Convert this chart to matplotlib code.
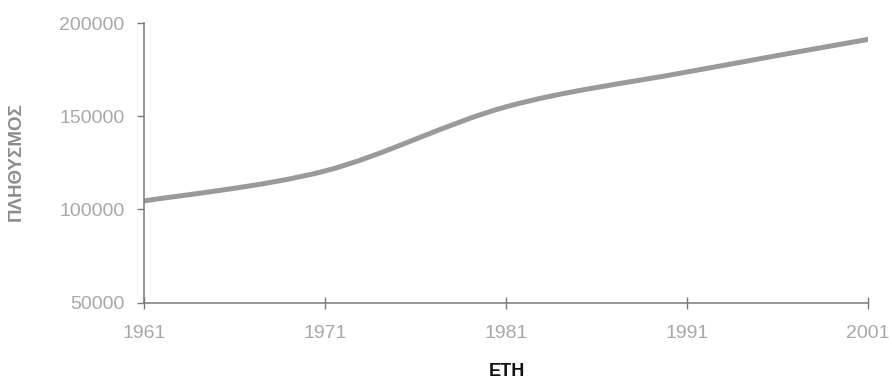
import matplotlib
matplotlib.use("Agg")
import matplotlib.pyplot as plt
from matplotlib.path import Path
from matplotlib.patches import PathPatch

years = [1961, 1971, 1981, 1991, 2001]
population = [104500, 120600, 155000, 173700, 191200]
y_ticks = [50000, 100000, 150000, 200000]
x_label = "ΕΤΗ"
y_label = "ΠΛΗΘΥΣΜΟΣ"

FONT = ["Liberation Sans", "DejaVu Sans"]
plt.rcParams["font.family"] = FONT

fig = plt.figure(figsize=(8.92, 3.82), dpi=100)
ax = fig.add_axes([144 / 892, 1 - 302.5 / 382, (868 - 144) / 892, (302.5 - 23) / 382])

# Smoothed line (Excel-style cubic Bezier through the data points)
n = len(years)
verts = [(years[0], population[0])]
codes = [Path.MOVETO]
for i in range(n - 1):
    x0, y0 = years[max(i - 1, 0)], population[max(i - 1, 0)]
    x1, y1 = years[i], population[i]
    x2, y2 = years[i + 1], population[i + 1]
    x3, y3 = years[min(i + 2, n - 1)], population[min(i + 2, n - 1)]
    c1 = (x1 + (x2 - x0) / 6, y1 + (y2 - y0) / 6)
    c2 = (x2 - (x3 - x1) / 6, y2 - (y3 - y1) / 6)
    verts += [c1, c2, (x2, y2)]
    codes += [Path.CURVE4] * 3
ax.add_patch(PathPatch(Path(verts, codes), fill=False, edgecolor="#9a9a9a",
                       lw=3.6, capstyle="round", joinstyle="round"))

ax.set_xlim(years[0], years[-1])
ax.set_ylim(y_ticks[0], y_ticks[-1])
ax.set_xticks(years)
ax.set_xticklabels([str(y) for y in years])
ax.set_yticks(y_ticks)
ax.set_yticklabels([str(v) for v in y_ticks])

for s in ["top", "right"]:
    ax.spines[s].set_visible(False)
for s in ["left", "bottom"]:
    ax.spines[s].set_color("#7a7a7a")
    ax.spines[s].set_linewidth(1.1)

ax.tick_params(axis="y", direction="out", length=5, width=1.0, color="#7a7a7a",
               labelcolor="#a8a8a8", labelsize=14, pad=9)
ax.tick_params(axis="x", direction="inout", length=8, width=1.0, color="#7a7a7a",
               labelcolor="#a8a8a8", labelsize=14, pad=12)

fig.text(507 / 892, 1 - 372 / 382, x_label, ha="center", va="center",
         fontsize=13, fontweight="bold", color="#111111")
fig.text(16 / 892, 1 - 162 / 382, y_label, ha="center", va="center", rotation=90,
         fontsize=13.5, fontweight="bold", color="#8c8c8c")

fig.savefig("out.png", dpi=100)
